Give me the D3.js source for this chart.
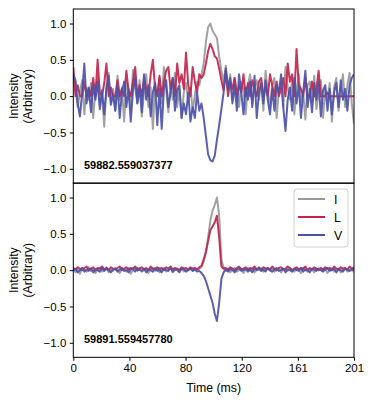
<!DOCTYPE html>
<html>
<head>
<meta charset="utf-8">
<script src="https://cdn.jsdelivr.net/npm/d3@7"></script>
<style>
  body { margin: 0; background: #fff; }
  text { font-family: "Liberation Sans", Arial, sans-serif; }
</style>
</head>
<body>
<div id="chart"></div>
<script>
// burst labels (MJD) for the two panels
var burstLabels = ["59882.559037377", "59891.559457780"];
var seriesNames = ["I", "L", "V"];
var seriesColors = ["#999999", "#c2254c", "#4c51aa"];

var xTickVals = [0, 40.2, 80.4, 120.6, 160.8, 201];
var xTickLabels = ["0", "40", "80", "120", "161", "201"];
var yTickVals = [-1.0, -0.5, 0.0, 0.5, 1.0];

// top burst, 128 bins over 201 ms
var I_top = [0.30, 0.10, -0.15, 0.05, 0.22, -0.25, 0.12, -0.05, 0.18, -0.30,
  0.08, 0.25, -0.12, 0.02, -0.42, 0.15, 0.32, -0.08, 0.10, -0.20,
  0.28, -0.05, 0.12, -0.35, 0.20, 0.05, -0.18, 0.36, 0.10, -0.10,
  0.22, -0.28, 0.06, 0.30, -0.15, 0.12, -0.45, 0.18, 0.00, 0.25,
  -0.10, 0.40, 0.08, -0.22, 0.15, -0.05, 0.32, -0.15, 0.10, -0.30,
  0.05, 0.18, -0.08, 0.12, -0.20, 0.02, 0.20, 0.15, 0.30, 0.45,
  0.75, 0.95, 1.00, 0.90, 0.85, 0.80, 0.55, 0.35, 0.20, 0.42,
  0.10, 0.30, -0.05, 0.25, 0.05, -0.15, 0.20, 0.08, -0.25, 0.15,
  0.30, -0.10, 0.12, 0.22, -0.05, 0.18, -0.20, 0.35, 0.05, -0.12,
  0.15, 0.25, -0.30, 0.08, 0.20, -0.15, 0.40, 0.12, -0.05, 0.22,
  -0.25, 0.10, 0.30, -0.08, 0.05, -0.32, 0.15, 0.20, -0.10, 0.28,
  -0.18, 0.05, 0.22, -0.30, 0.10, -0.05, 0.18, -0.35, 0.12, 0.25,
  -0.20, 0.08, 0.30, -0.15, 0.15, 0.32, -0.10, -0.38];
var L_top = [0.40, 0.00, 0.15, 0.00, 0.00, 0.20, 0.00, 0.10, 0.00, 0.25,
  0.00, 0.50, 0.05, 0.00, 0.18, 0.45, 0.00, 0.12, 0.00, 0.00,
  0.22, 0.00, 0.10, 0.00, 0.35, 0.08, 0.00, 0.20, 0.40, 0.00,
  0.15, 0.00, 0.25, 0.10, 0.00, 0.30, 0.50, 0.12, 0.00, 0.28,
  0.00, 0.20, 0.35, 0.40, 0.10, 0.25, 0.00, 0.45, 0.18, 0.30,
  0.10, 0.60, 0.15, 0.00, 0.40, 0.20, 0.05, 0.30, 0.25, 0.30,
  0.45, 0.62, 0.72, 0.65, 0.55, 0.52, 0.38, 0.22, 0.08, 0.35,
  0.00, 0.20, 0.10, 0.25, 0.00, 0.15, 0.05, 0.30, 0.00, 0.18,
  0.00, 0.22, 0.10, 0.00, 0.20, 0.25, 0.00, 0.12, 0.00, 0.30,
  0.15, 0.00, 0.20, 0.00, 0.10, 0.25, 0.00, 0.45, 0.20, 0.30,
  0.00, 0.65, 0.15, 0.10, 0.00, 0.25, 0.00, 0.00, 0.20, 0.00,
  0.10, 0.35, 0.00, 0.00, 0.00, 0.05, 0.00, 0.00, 0.00, 0.00,
  0.00, 0.00, 0.00, 0.00, 0.00, 0.00, 0.00, 0.00];
var V_top = [0.30, 0.22, -0.10, -0.28, 0.05, 0.45, -0.10, 0.12, -0.22, 0.15,
  -0.05, 0.20, -0.18, 0.08, -0.25, 0.10, 0.28, -0.12, 0.02, -0.20,
  0.15, -0.30, 0.05, 0.20, -0.15, 0.10, -0.35, 0.08, 0.25, -0.10,
  0.12, -0.22, 0.30, -0.05, 0.15, -0.28, 0.05, 0.18, -0.40, 0.10,
  -0.45, 0.10, 0.22, -0.15, 0.05, 0.25, -0.20, 0.08, 0.15, -0.30,
  -0.10, -0.25, 0.05, -0.35, -0.15, -0.30, 0.05, -0.20, -0.10, -0.30,
  -0.55, -0.80, -0.88, -0.90, -0.82, -0.60, -0.40, -0.18, 0.05, 0.38,
  0.10, 0.25, -0.10, 0.15, -0.20, 0.30, 0.05, -0.25, 0.12, -0.05,
  0.20, -0.15, 0.28, -0.30, 0.05, 0.18, -0.10, 0.22, -0.05, -0.25,
  0.10, -0.20, 0.15, 0.05, 0.30, -0.15, -0.48, -0.05, 0.12, -0.20,
  0.25, -0.10, 0.15, -0.30, 0.05, 0.35, -0.15, 0.10, -0.22, 0.18,
  -0.05, 0.20, -0.28, 0.08, 0.15, -0.20, 0.10, -0.25, 0.05, 0.18,
  -0.15, 0.22, -0.05, 0.10, -0.20, 0.15, 0.25, 0.30];

// bottom burst
var I_bot = [0.02, -0.03, 0.01, -0.05, 0.03, 0.00, -0.02, 0.04, -0.01, 0.02,
  -0.04, 0.01, 0.03, -0.02, 0.00, 0.04, -0.03, 0.02, -0.01, 0.03,
  0.00, -0.04, 0.02, 0.01, -0.02, 0.03, -0.05, 0.01, 0.02, -0.01,
  0.03, -0.02, 0.00, 0.02, -0.04, 0.01, 0.03, -0.01, 0.02, -0.03,
  0.01, 0.03, -0.02, 0.00, 0.04, -0.03, 0.01, 0.02, -0.01, 0.03,
  -0.02, 0.01, 0.00, 0.02, -0.01, 0.03, 0.01, 0.02, 0.04, 0.12,
  0.25, 0.45, 0.68, 0.82, 0.90, 1.00, 0.75, 0.15, 0.03, -0.01,
  0.02, -0.03, 0.01, 0.03, -0.02, 0.00, 0.02, -0.04, 0.01, 0.03,
  -0.01, 0.02, -0.03, 0.01, 0.00, 0.03, -0.02, 0.01, 0.02, -0.01,
  0.03, -0.02, 0.00, 0.02, -0.03, 0.01, 0.02, -0.01, 0.03, 0.00,
  -0.02, 0.02, 0.01, -0.04, 0.03, 0.00, -0.02, 0.02, 0.01, -0.03,
  0.02, 0.00, 0.03, -0.01, 0.02, -0.04, 0.01, 0.03, -0.02, 0.01,
  0.02, -0.03, 0.01, 0.03, -0.02, 0.00, 0.02, -0.03];
var L_bot = [0.03, 0.01, 0.04, 0.02, 0.00, 0.03, 0.05, 0.01, 0.02, 0.04,
  0.00, 0.03, 0.02, 0.05, 0.01, 0.03, 0.00, 0.04, 0.02, 0.01,
  0.03, 0.05, 0.00, 0.02, 0.04, 0.01, 0.03, 0.02, 0.05, 0.00,
  0.02, 0.04, 0.01, 0.03, 0.00, 0.05, 0.02, 0.01, 0.04, 0.02,
  0.03, 0.00, 0.04, 0.02, 0.05, 0.01, 0.03, 0.02, 0.00, 0.04,
  0.02, 0.03, 0.01, 0.04, 0.02, 0.03, 0.01, 0.04, 0.06, 0.15,
  0.25, 0.40, 0.55, 0.60, 0.66, 0.75, 0.45, 0.05, 0.02, 0.03,
  0.01, 0.04, 0.02, 0.00, 0.03, 0.05, 0.01, 0.02, 0.04, 0.00,
  0.03, 0.02, 0.05, 0.01, 0.03, 0.00, 0.04, 0.02, 0.03, 0.01,
  0.05, 0.02, 0.00, 0.03, 0.04, 0.01, 0.02, 0.05, 0.03, 0.00,
  0.02, 0.04, 0.01, 0.03, 0.02, 0.05, 0.00, 0.03, 0.01, 0.04,
  0.02, 0.00, 0.03, 0.01, 0.04, 0.02, 0.03, 0.00, 0.05, 0.02,
  0.01, 0.04, 0.02, 0.03, 0.00, 0.05, 0.02, 0.04];
var V_bot = [-0.01, 0.02, -0.03, 0.00, 0.03, -0.02, 0.01, -0.01, 0.02, -0.03,
  0.01, 0.00, -0.02, 0.03, -0.01, 0.02, 0.00, -0.03, 0.01, 0.02,
  -0.02, 0.01, 0.03, -0.01, 0.00, -0.03, 0.02, 0.01, -0.02, 0.03,
  0.00, -0.01, 0.02, -0.03, 0.01, 0.00, -0.02, 0.03, -0.01, 0.01,
  -0.03, 0.02, 0.00, -0.01, 0.03, -0.02, 0.01, 0.00, -0.03, 0.02,
  0.01, -0.02, 0.00, 0.02, -0.01, 0.01, -0.02, -0.01, -0.04, -0.08,
  -0.15, -0.25, -0.35, -0.45, -0.60, -0.70, -0.45, -0.12, -0.03, 0.01,
  -0.02, 0.02, 0.00, -0.03, 0.01, 0.03, -0.01, 0.00, 0.02, -0.02,
  0.01, -0.03, 0.02, 0.00, 0.04, -0.01, 0.01, -0.02, 0.03, 0.00,
  -0.02, 0.01, 0.03, -0.01, 0.00, 0.02, -0.03, 0.01, 0.00, -0.02,
  0.02, 0.00, -0.01, 0.03, -0.02, 0.01, 0.00, -0.03, 0.02, 0.01,
  -0.01, 0.02, 0.00, -0.02, 0.01, 0.03, -0.01, 0.00, 0.02, -0.03,
  0.01, 0.00, -0.02, 0.02, 0.01, -0.01, 0.00, 0.02];

var panels = [
  { label: burstLabels[0], series: [I_top, L_top, V_top] },
  { label: burstLabels[1], series: [I_bot, L_bot, V_bot] }
];

width = 374
height = 404
left = 73.3
right = 354
panelTop = [9, 183]
panelH = 174.3
tickFont = 11.5
labelFont = 12.3

var svg = d3.select("#chart").append("svg")
  .attr("width", width)
  .attr("height", height);

var x = d3.scaleLinear().domain([0, 201]).range([left, right]);
// bin index -> time (ms)
var binTime = d3.scaleLinear().domain([0, I_top.length - 1]).range([0, 201]);

panels.forEach(function(p, k) {
  var y = d3.scaleLinear().domain([-1.2, 1.2]).range([panelTop[k] + panelH, panelTop[k]]);
  var g = svg.append("g");

  g.append("clipPath").attr("id", "clip" + k)
    .append("rect")
    .attr("x", left).attr("y", panelTop[k])
    .attr("width", right - left).attr("height", panelH);

  var line = d3.line()
    .x(function(d, i) { return x(binTime(i)); })
    .y(function(d) { return y(d); });

  p.series.forEach(function(s, j) {
    g.append("path")
      .datum(s)
      .attr("clip-path", "url(#clip" + k + ")")
      .attr("fill", "none")
      .attr("stroke", seriesColors[j])
      .attr("stroke-width", 2)
      .attr("stroke-opacity", 0.92)
      .attr("stroke-linejoin", "round")
      .attr("d", line);
  });

  // y axis
  var yAxis = d3.axisLeft(y).tickValues(yTickVals).tickSize(3.5).tickPadding(3.5)
    .tickFormat(function(d) { return d3.format(".1f")(d).replace("-", "\u2212"); });
  var ya = g.append("g").attr("transform", "translate(" + left + ",0)").call(yAxis);
  ya.select(".domain").remove();
  ya.selectAll("text").attr("font-size", tickFont).attr("fill", "#000")
    .style("font-family", "Liberation Sans, Arial, sans-serif");
  ya.selectAll("line").attr("stroke", "#000");

  // frame
  g.append("rect")
    .attr("x", left).attr("y", panelTop[k])
    .attr("width", right - left).attr("height", panelH)
    .attr("fill", "none").attr("stroke", "#000").attr("stroke-width", 1);

  // burst label
  g.append("text")
    .text(p.label)
    .attr("x", 84)
    .attr("y", panelTop[k] + 160)
    .attr("font-size", 11)
    .attr("font-weight", "bold");

  // y label
  var yl = g.append("text")
    .attr("transform", "translate(0," + (panelTop[k] + panelH / 2) + ") rotate(-90)")
    .attr("text-anchor", "middle")
    .attr("font-size", labelFont);
  yl.append("tspan").attr("x", 0).attr("y", 18).text("Intensity");
  yl.append("tspan").attr("x", 0).attr("y", 32).text("(Arbitrary)");

  if (k == 1) {
    var xAxis = d3.axisBottom(x).tickValues(xTickVals).tickSize(3.5).tickPadding(3.5)
      .tickFormat(function(d, i) { return xTickLabels[i]; });
    var xa = g.append("g").attr("transform", "translate(0," + (panelTop[k] + panelH) + ")").call(xAxis);
    xa.select(".domain").remove();
    xa.selectAll("text").attr("font-size", tickFont).attr("fill", "#000")
      .style("font-family", "Liberation Sans, Arial, sans-serif");
    xa.selectAll("line").attr("stroke", "#000");

    g.append("text")
      .text("Time (ms)")
      .attr("x", (left + right) / 2)
      .attr("y", 392)
      .attr("text-anchor", "middle")
      .attr("font-size", labelFont);

    // legend
    var lg = g.append("g").attr("transform", "translate(294,189)");
    lg.append("rect")
      .attr("width", 54).attr("height", 58)
      .attr("rx", 3).attr("ry", 3)
      .attr("fill", "#fff").attr("fill-opacity", 0.8)
      .attr("stroke", "#d0d0d0").attr("stroke-width", 1);
    seriesNames.forEach(function(n, j) {
      lg.append("line")
        .attr("x1", 4).attr("x2", 31)
        .attr("y1", 10 + j * 18).attr("y2", 10 + j * 18)
        .attr("stroke", seriesColors[j]).attr("stroke-width", 2);
      lg.append("text")
        .text(n)
        .attr("x", 40).attr("y", 14.5 + j * 18)
        .attr("font-size", labelFont);
    });
  }
});
</script>
</body>
</html>
